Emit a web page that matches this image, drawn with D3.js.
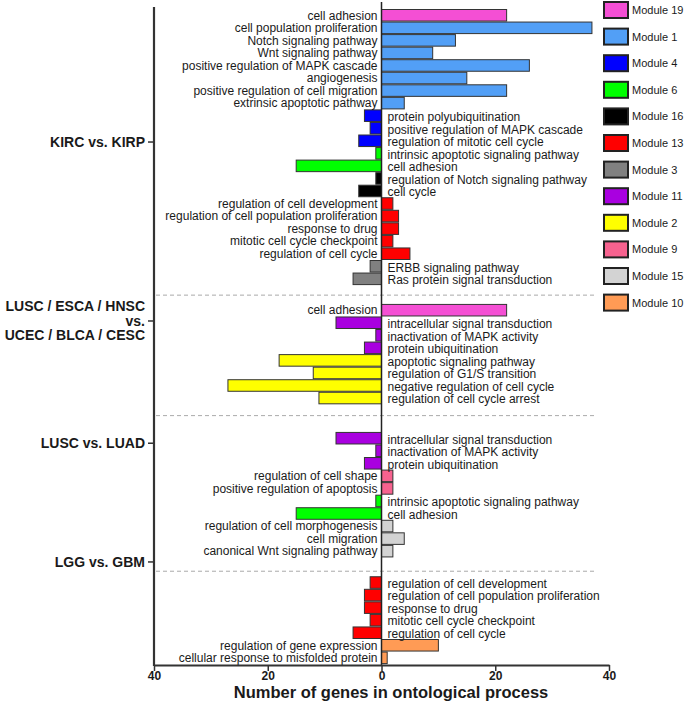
<!DOCTYPE html>
<html><head><meta charset="utf-8">
<script src="https://cdn.jsdelivr.net/npm/d3@7"></script>
<style>
body{margin:0;background:#fff;}
text{font-family:"Liberation Sans",Arial,sans-serif;fill:#1a1a1a;}
</style></head>
<body><svg id="c" width="685" height="701"></svg>
<script>
// ---- data ----
const groups = ["KIRC vs. KIRP", "LUSC / ESCA / HNSC|vs.|UCEC / BLCA / CESC", "LUSC vs. LUAD", "LGG vs. GBM"];
const terms = [
  "cell adhesion","cell population proliferation","Notch signaling pathway","Wnt signaling pathway",
  "positive regulation of MAPK cascade","angiogenesis","positive regulation of cell migration","extrinsic apoptotic pathway",
  "protein polyubiquitination","positive regulation of MAPK cascade","regulation of mitotic cell cycle",
  "intrinsic apoptotic signaling pathway","cell adhesion",
  "regulation of Notch signaling pathway","cell cycle",
  "regulation of cell development","regulation of cell population proliferation","response to drug","mitotic cell cycle checkpoint","regulation of cell cycle",
  "ERBB signaling pathway","Ras protein signal transduction",
  "cell adhesion","intracellular signal transduction","inactivation of MAPK activity","protein ubiquitination",
  "apoptotic signaling pathway","regulation of G1/S transition","negative regulation of cell cycle","regulation of cell cycle arrest",
  "intracellular signal transduction","inactivation of MAPK activity","protein ubiquitination",
  "regulation of cell shape","positive regulation of apoptosis",
  "intrinsic apoptotic signaling pathway","cell adhesion",
  "regulation of cell morphogenesis","cell migration","canonical Wnt signaling pathway",
  "regulation of cell development","regulation of cell population proliferation","response to drug","mitotic cell cycle checkpoint","regulation of cell cycle",
  "regulation of gene expression","cellular response to misfolded protein"
];
const values = [
  22,37,13,9,26,15,22,4,
  -3,-2,-4,
  -1,-15,
  -1,-4,
  2,3,3,2,5,
  -2,-5,
  22,-8,-1,-3,
  -18,-12,-27,-11,
  -8,-1,-3,
  2,2,
  -1,-15,
  2,4,2,
  -2,-3,-3,-2,-5,
  10,1
];
const modules = [
  "19","1","1","1","1","1","1","1",
  "4","4","4",
  "6","6",
  "16","16",
  "13","13","13","13","13",
  "3","3",
  "19","11","11","11",
  "2","2","2","2",
  "11","11","11",
  "9","9",
  "6","6",
  "15","15","15",
  "13","13","13","13","13",
  "10","10"
];
const groupSizes = [22, 8, 10, 7];
const legendModules = ["19","1","4","6","16","13","3","11","2","9","15","10"];
const legendColors = ["#f44fd4","#529ff6","#0000ff","#00ff00","#000000","#ff0000","#808080","#a900e0","#ffff00","#f7628f","#d3d3d3","#ff9b55"];
const xTicks = [-40,-20,0,20,40];

// ---- layout ----
const svg = d3.select("#c");
const color = d3.scaleOrdinal().domain(legendModules).range(legendColors);
const x = d3.scaleLinear().domain([-40,40]).range([154,609]);
const groupStart = [0, 23.5, 33.7, 45.2];
const dashSlots = [22.8, 32.4, 44.8];
const groupLabelSlots = [10.6, 24.86, 34.6, 44.06];
const y = d3.scaleLinear().domain([0,52.2]).range([9,664.1]);

const rows = [];
let k = 0;
groupSizes.forEach((n,g)=>{ for(let i=0;i<n;i++){ rows.push({term:terms[k],v:values[k],m:modules[k],slot:groupStart[g]+i}); k++; } });

// dashed separators
svg.selectAll("line.sep").data(dashSlots).join("line")
  .attr("x1",156).attr("x2",594).attr("y1",d=>y(d)).attr("y2",d=>y(d))
  .attr("stroke","#aaa").attr("stroke-width",1).attr("stroke-dasharray","4,3");

// bars
svg.selectAll("rect.bar").data(rows).join("rect")
  .attr("x",d=>x(Math.min(0,d.v))).attr("width",d=>Math.abs(x(d.v)-x(0)))
  .attr("y",d=>y(d.slot)+0.5).attr("height",d=>y(d.slot+1)-y(d.slot)-1)
  .attr("fill",d=>color(d.m)).attr("stroke","#333").attr("stroke-width",1);

// term labels
svg.selectAll("text.term").data(rows).join("text")
  .attr("x",d=>d.v>0? x(0)-4 : x(0)+6)
  .attr("y",d=>(y(d.slot)+y(d.slot+1))/2 + (d.v>0?4.3:5.3))
  .attr("text-anchor",d=>d.v>0?"end":"start")
  .attr("font-size",12).text(d=>d.term);

// zero line
svg.append("line").attr("x1",x(0)).attr("x2",x(0)).attr("y1",2).attr("y2",665)
  .attr("stroke","#222").attr("stroke-width",1.5);

// left group axis
svg.append("line").attr("x1",154).attr("x2",154).attr("y1",7).attr("y2",666)
  .attr("stroke","#333").attr("stroke-width",2.2);
groups.forEach((g,i)=>{
  const yy = y(groupLabelSlots[i]);
  svg.append("line").attr("x1",148).attr("x2",154).attr("y1",yy).attr("y2",yy).attr("stroke","#333").attr("stroke-width",1.5);
  const lines = g.split("|");
  lines.forEach((t,j)=>{
    svg.append("text").attr("x",145).attr("y",yy + (j-(lines.length-1)/2)*14.5 + 5)
      .attr("text-anchor","end").attr("font-size",14).attr("font-weight","bold").text(t);
  });
});

// x axis
const ax = svg.append("g").attr("transform","translate(0,665)")
  .call(d3.axisBottom(x).tickValues(xTicks).tickFormat(d=>Math.abs(d)).tickSize(6).tickSizeOuter(0));
ax.select(".domain").attr("stroke","#333").attr("stroke-width",2.2);
ax.selectAll(".tick line").attr("stroke","#333").attr("stroke-width",1.5);
ax.selectAll(".tick text").attr("font-size",12).attr("font-weight","bold")
  .attr("font-family","'Liberation Sans',Arial,sans-serif").attr("fill","#1a1a1a").attr("dy","0.72em").attr("y",6);
svg.append("text").attr("x",391).attr("y",698).attr("text-anchor","middle")
  .attr("font-size",16.5).attr("font-weight","bold").text("Number of genes in ontological process");

// legend
const lg = svg.selectAll("g.lg").data(legendModules).join("g")
  .attr("transform",(d,i)=>`translate(604,${2+i*26.6})`);
lg.append("rect").attr("width",24).attr("height",16).attr("fill",d=>color(d)).attr("stroke","#222").attr("stroke-width",2);
lg.append("text").attr("x",28).attr("y",12).attr("font-size",11).text(d=>"Module "+d);
</script></body></html>
